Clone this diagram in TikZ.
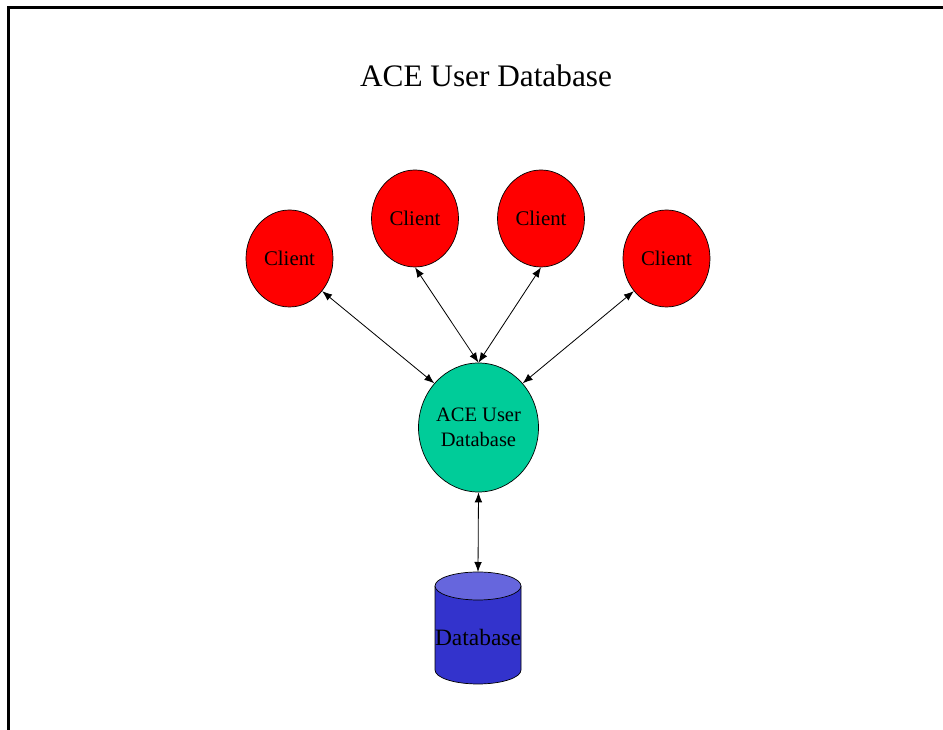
\documentclass[tikz,border=0pt]{standalone}
\usepackage{fontspec}
\setmainfont{Liberation Serif}
\usetikzlibrary{arrows.meta,shapes.geometric}
\definecolor{clientred}{RGB}{255,0,0}
\definecolor{acegreen}{RGB}{0,204,153}
\definecolor{dbbody}{RGB}{51,51,204}
\definecolor{dbtop}{RGB}{102,102,221}

\begin{document}
\begin{tikzpicture}[x=0.03cm, y=0.03cm,
  client/.style={ellipse, draw, line width=0.6pt, fill=clientred, inner sep=0pt,
    minimum width=2.61cm, minimum height=2.91cm, font=\fontsize{17.8}{21}\selectfont},
  server/.style={ellipse, draw, line width=0.6pt, fill=acegreen, inner sep=0pt, align=center,
    minimum width=3.51cm, minimum height=3.87cm, font=\fontsize{17.5}{21.3}\selectfont},
  link/.style={{Latex[length=0.3cm,width=0.23cm]}-{Latex[length=0.3cm,width=0.23cm]}, line width=0.7pt}]
  \useasboundingbox (0,0) rectangle (943,730);
  % page frame (cut off at right and bottom)
  \draw[line width=1.8pt] (8.5,0) |- (943,722.5);
  % title
  \node[anchor=base, font=\fontsize{26.7}{32}\selectfont] (title) at (486,643) {ACE User Database};
  % clients
  \node[client] (c1) at (289.5,471.5) {Client};
  \node[client] (c2) at (415,511.5) {Client};
  \node[client] (c3) at (541,511.5) {Client};
  \node[client] (c4) at (666.5,471.5) {Client};
  % user database server
  \node[server] (ace) at (478.5,302.5) {ACE User\\Database};
  % database cylinder
  \filldraw[fill=dbbody, line width=0.6pt] (435,144) -- (435,60)
    arc[start angle=180, end angle=360, x radius=1.29cm, y radius=0.42cm] -- (521,144);
  \filldraw[fill=dbtop, line width=0.6pt] (478,144) ellipse[x radius=1.29cm, y radius=0.42cm];
  \coordinate (dbin) at (478,158);
  \node[font=\fontsize{20}{24}\selectfont, inner sep=0pt] (db) at (478,93) {Database};
  % connections
  \draw[link] (ace.135) -- (c1.-45);
  \draw[link] (ace.north) -- (c2.south);
  \draw[link] (ace.north) -- (c3.south);
  \draw[link] (ace.45) -- (c4.-135);
  \draw[link] (ace.south) -- (dbin);
\end{tikzpicture}
\end{document}
